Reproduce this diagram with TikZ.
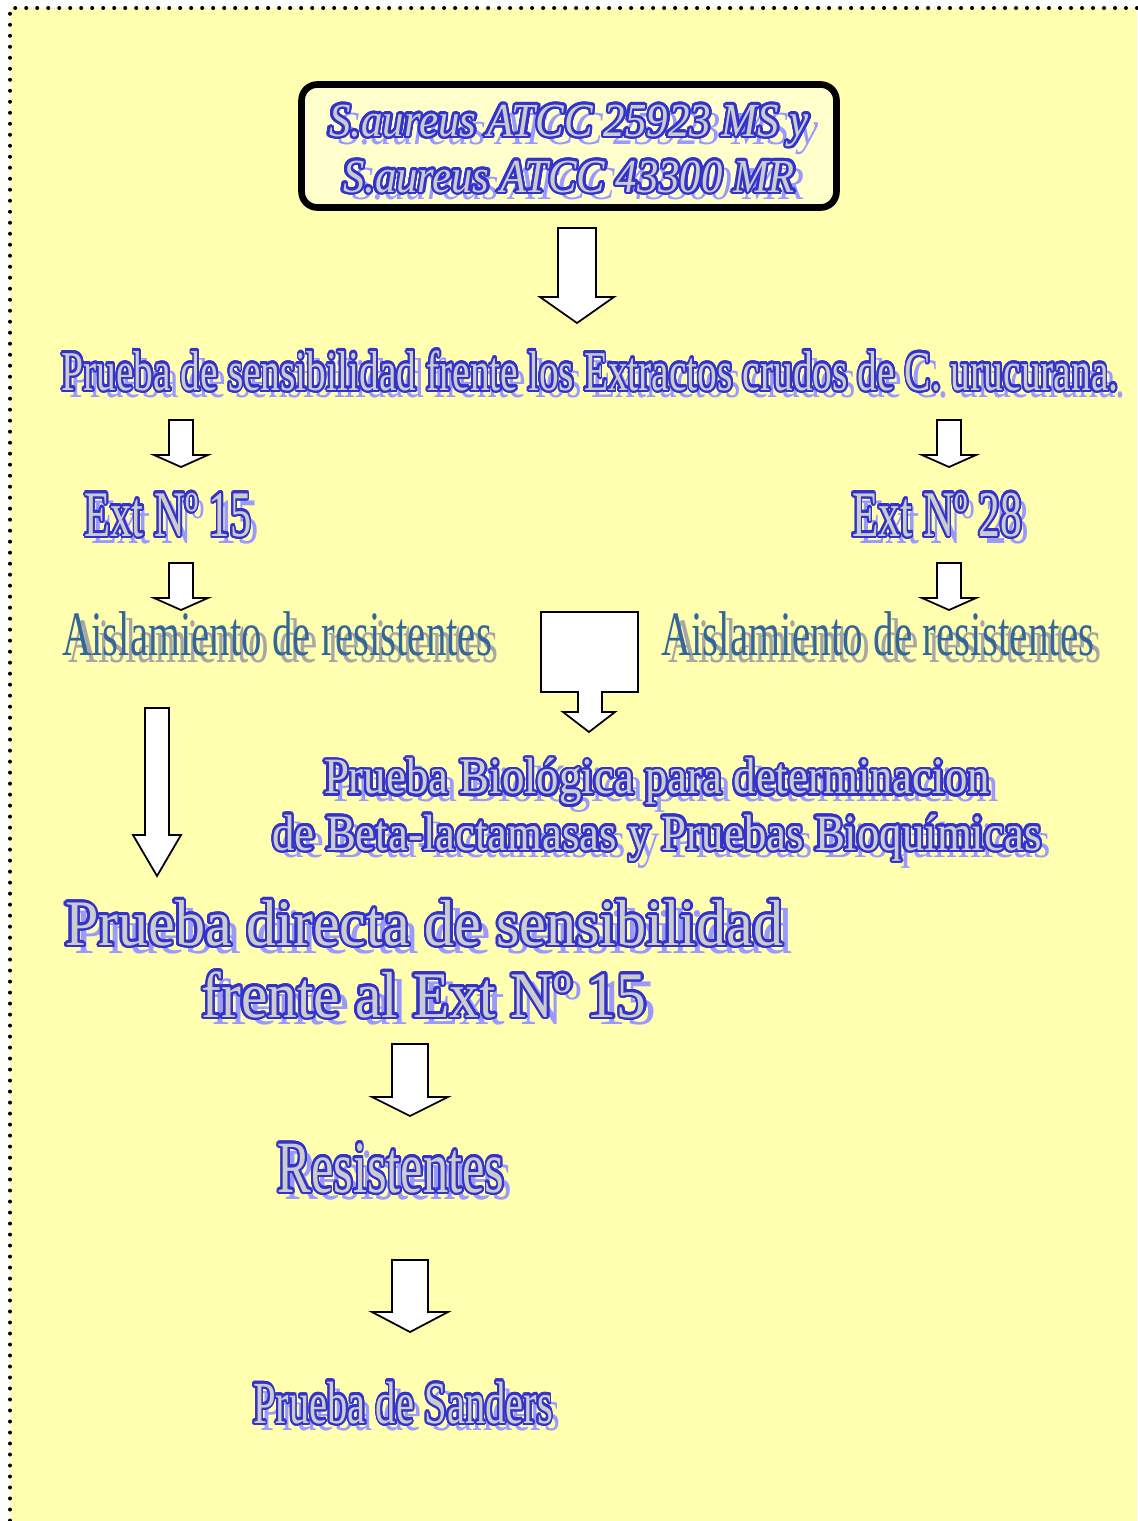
\documentclass[tikz,border=0pt]{standalone}
\usepackage{fontspec}
\setmainfont{Liberation Serif}
\usepackage{graphicx}
\usepackage{contour}
\contourlength{1.5pt}
\contournumber{24}

\definecolor{bgyellow}{HTML}{FFFFAF}
\definecolor{boxyellow}{HTML}{FFFFCC}
\definecolor{artblue}{HTML}{3333CC}
\definecolor{artfill}{HTML}{CCCCCC}
\definecolor{artshadow}{HTML}{9999FF}
\definecolor{aisblue}{HTML}{336699}
\definecolor{aisshadow}{HTML}{A6A6A6}

% word art: shadow, blue outline, grey fill
\newcommand\wa[1]{\rlap{\hspace{6pt}\raisebox{-4.5pt}{\color{artshadow}#1}}\textcolor{artfill}{\contour{artblue}{#1}}}
\newcommand\ais[1]{\rlap{\hspace{6pt}\raisebox{-4.5pt}{\color{aisshadow}#1}}\textcolor{aisblue}{#1}}

% squeeze a line to a given width
\newsavebox\fitbox
\newlength\fitwd
\newcommand\fitw[2]{\sbox\fitbox{#2}\setlength\fitwd{\wd\fitbox}\pgfmathsetmacro\fitf{#1/\fitwd}\scalebox{\fitf}[1]{\usebox\fitbox}}

% x, top, tip, shaft half width, head half width, head length
\newcommand\blockarrow[6]{%
  \draw[barrow] (#1-#4,#2) -- (#1+#4,#2) -- (#1+#4,#3-#6) -- (#1+#5,#3-#6)
    -- (#1,#3) -- (#1-#5,#3-#6) -- (#1-#4,#3-#6) -- cycle;}

\tikzset{
  barrow/.style={draw=black, line width=1pt, fill=white, line join=miter},
  wordart/.style={inner sep=0pt, anchor=base, align=center},
  strainbox/.style={draw=black, line width=3.8pt, rounded corners=9pt, fill=boxyellow,
    minimum width=10.7cm, minimum height=2.46cm},
  dotline/.style={line width=0.08cm, dash pattern=on 0pt off 0.22cm, line cap=round},
}

\begin{document}
\begin{tikzpicture}[x=0.02cm, y=-0.02cm]
\useasboundingbox (0,0) rectangle (1137,1521);
\fill[bgyellow] (10,8) rectangle (1137,1521);
\draw[dotline] (1137,8) -- (10,8) -- (10,1521);

\node[strainbox] (strains) at (569,146) {};
\node[wordart, font=\fontsize{27pt}{31.7pt}\selectfont\itshape] (straintxt) at (569,192)
  {\fitw{9.6cm}{\wa{S.aureus ATCC 25923 MS y}}\\\fitw{9.04cm}{\wa{S.aureus ATCC 43300 MR}}};

\node[wordart, font=\fontsize{32pt}{38pt}\selectfont] (screen) at (590,390)
  {\fitw{21.14cm}{\wa{Prueba de sensibilidad frente los Extractos crudos de C. urucurana.}}};

\node[wordart, font=\fontsize{37pt}{44pt}\selectfont] (ext15) at (168,536) {\fitw{3.34cm}{\wa{Ext Nº 15}}};
\node[wordart, font=\fontsize{37pt}{44pt}\selectfont] (ext28) at (937,536) {\fitw{3.4cm}{\wa{Ext Nº 28}}};

\node[wordart, font=\fontsize{36pt}{43pt}\selectfont] (isol15) at (277,655) {\fitw{8.6cm}{\ais{Aislamiento de resistentes}}};
\node[wordart, font=\fontsize{36pt}{43pt}\selectfont] (isol28) at (878,655) {\fitw{8.66cm}{\ais{Aislamiento de resistentes}}};

\node[wordart, font=\fontsize{29pt}{30pt}\selectfont] (biol) at (657,850)
  {\fitw{13.32cm}{\wa{Prueba Biológica para determinacion}}\\\fitw{15.38cm}{\wa{de Beta-lactamasas y Pruebas Bioquímicas}}};

\node[wordart, font=\fontsize{37pt}{40.8pt}\selectfont] (direct) at (424,1017)
  {\fitw{14.36cm}{\wa{Prueba directa de sensibilidad}}\\\fitw{8.9cm}{\wa{frente al Ext Nº 15}}};

\node[wordart, font=\fontsize{42pt}{50pt}\selectfont] (resist) at (391,1192) {\fitw{4.54cm}{\wa{Resistentes}}};
\node[wordart, font=\fontsize{34pt}{40pt}\selectfont] (sanders) at (403,1423) {\fitw{6.0cm}{\wa{Prueba de Sanders}}};

% arrows
\blockarrow{577}{228}{323}{19}{37}{26}
\foreach \x in {181,949} {
  \blockarrow{\x}{420}{467}{12}{27}{12}
  \blockarrow{\x}{563}{610}{12}{27}{12}
}
\draw[barrow] (541,612) -- (638,612) -- (638,692) -- (602,692) -- (602,712) -- (615,712)
  -- (589,732) -- (563,712) -- (578,712) -- (578,692) -- (541,692) -- cycle;
\blockarrow{157}{708}{876}{12}{24}{41}
\blockarrow{410}{1044}{1116}{18}{38}{19}
\blockarrow{410}{1260}{1332}{18}{38}{20}
\end{tikzpicture}
\end{document}
